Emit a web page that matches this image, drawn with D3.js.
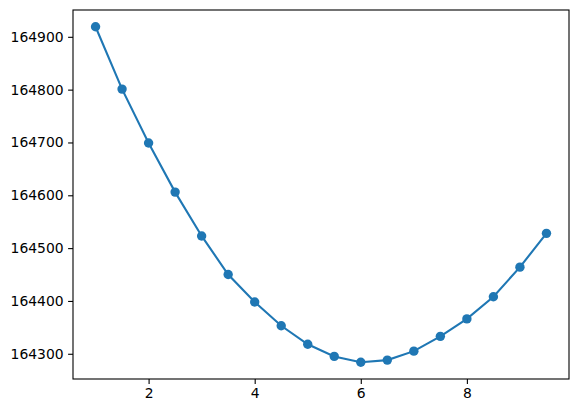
<!DOCTYPE html>
<html>
<head>
<meta charset="utf-8">
<script src="https://cdn.jsdelivr.net/npm/d3@7"></script>
<style>
  body { margin: 0; background: #fff; }
  svg text { font-family: "DejaVu Sans", sans-serif; }
</style>
</head>
<body>
<svg></svg>
<script>
// values
let xValues = [1, 1.5, 2, 2.5, 3, 3.5, 4, 4.5, 5, 5.5, 6, 6.5, 7, 7.5, 8, 8.5, 9, 9.5];
let yValues = [164919, 164801, 164699, 164606, 164523, 164450, 164398, 164353, 164318,
               164295, 164284, 164288, 164305, 164333, 164366, 164408, 164464, 164528];
let xTicks = [2, 4, 6, 8];
let yTicks = [164300, 164400, 164500, 164600, 164700, 164800, 164900];

let svg = d3.select('svg');
let width = 578;
let height = 413;
let plotLeft = 73, plotRight = 569, plotTop = 10, plotBottom = 379;
let color = '#1f77b4';

svg.attr('width', width).attr('height', height);

// matplotlib-ish 5% margins
let xMin = d3.min(xValues), xMax = d3.max(xValues);
let yMin = d3.min(yValues), yMax = d3.max(yValues);
let xPad = (xMax - xMin) * 0.05, yPad = (yMax - yMin) * 0.05;

let xScale = d3.scaleLinear().domain([xMin - xPad, xMax + xPad]).range([plotLeft, plotRight]);
let yScale = d3.scaleLinear().domain([yMin - yPad, yMax + yPad]).range([plotBottom, plotTop]);

let xAxis = d3.axisBottom(xScale).tickValues(xTicks).tickSize(4.9).tickPadding(4.5).tickFormat(d3.format('d'));
let yAxis = d3.axisLeft(yScale).tickValues(yTicks).tickSize(4.9).tickPadding(4.5).tickFormat(d3.format('d'));

let gx = svg.append('g')
    .attr('transform', 'translate(0,' + plotBottom + ')')
    .call(xAxis);
let gy = svg.append('g')
    .attr('transform', 'translate(' + plotLeft + ',0)')
    .call(yAxis);

[gx, gy].forEach(g => {
    g.select('.domain').remove();
    g.selectAll('.tick line').attr('stroke', '#000').attr('stroke-width', 1.1);
    g.selectAll('.tick text').attr('fill', '#000').attr('font-size', '13.9px')
        .attr('font-family', '"DejaVu Sans", sans-serif');
});

// frame
svg.append('rect')
    .attr('x', plotLeft).attr('y', plotTop)
    .attr('width', plotRight - plotLeft).attr('height', plotBottom - plotTop)
    .attr('fill', 'none').attr('stroke', '#000').attr('stroke-width', 1.1);

let points = xValues.map((x, i) => [x, yValues[i]]);

let line = d3.line().x(d => xScale(d[0])).y(d => yScale(d[1]));

svg.append('path')
    .datum(points)
    .attr('d', line)
    .attr('fill', 'none')
    .attr('stroke', color)
    .attr('stroke-width', 2.1);

svg.selectAll('circle.pt')
    .data(points)
    .enter().append('circle')
    .attr('class', 'pt')
    .attr('cx', d => xScale(d[0]))
    .attr('cy', d => yScale(d[1]))
    .attr('r', 4.7)
    .attr('fill', color);
</script>
</body>
</html>
